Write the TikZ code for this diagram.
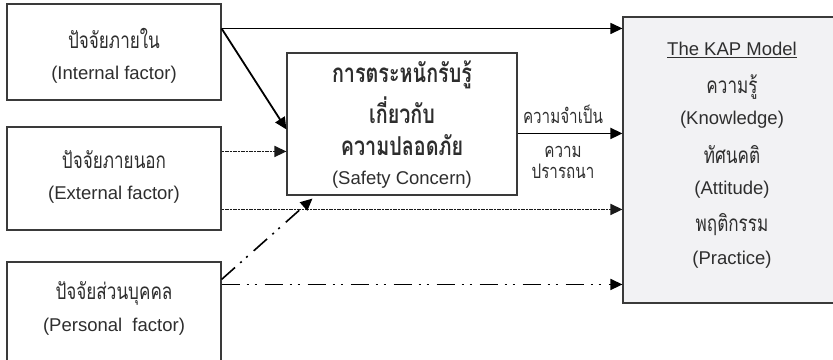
\documentclass[tikz,border=0pt]{standalone}
\usepackage{fontspec}
\setmainfont{Liberation Sans}
\newfontfamily\thai[Script=Thai, FakeStretch=0.76]{Loma}
\usetikzlibrary{arrows.meta,calc}
\definecolor{txt}{HTML}{2E2E2E}
\definecolor{edge}{HTML}{3A3A3A}
\definecolor{kapfill}{HTML}{F2F2F4}
\tikzset{
  box/.style={draw=edge, line width=1.1pt, fill=white, inner sep=0pt},
  lbl/.style={text=txt, inner sep=0pt, font=\fontsize{18.5}{20}\selectfont},
  tlbl/.style={text=txt, inner sep=0pt, font=\thai\fontsize{22.5}{24}\selectfont},
  tbold/.style={text=txt, inner sep=0pt, font=\thai\bfseries\fontsize{26}{28}\selectfont},
  tsmall/.style={text=txt, inner sep=0pt, font=\thai\fontsize{20}{22}\selectfont},
  tip/.style={-{Triangle[length=12pt,width=11pt]}},
  solidarrow/.style={tip, line width=1.3pt, draw=black},
  thickarrow/.style={tip, line width=1.8pt, draw=black},
  dotarrow/.style={tip, line width=1.6pt, draw=black!90, dash pattern=on 1.2pt off 0.4pt},
  dddarrow/.style={tip, line width=1.6pt, draw=black, dash pattern=on 18pt off 7pt on 2pt off 6pt on 2pt off 8pt},
}
\begin{document}
\begin{tikzpicture}[x=1pt,y=-1pt]
\useasboundingbox (0,0) rectangle (833,359);
% boxes
\node[box, minimum width=214pt, minimum height=96pt] (b1) at (114,52) {};
\node[box, minimum width=214pt, minimum height=103pt] (b2) at (114,178.5) {};
\node[box, minimum width=214pt, minimum height=100pt] (b3) at (114,312) {};
\node[box, minimum width=230pt, minimum height=142pt] (cb) at (402,124) {};
\node[box, fill=kapfill, minimum width=220pt, minimum height=286pt] (kap) at (733,160) {};
% texts
\node[tlbl] (t1a) at (114,38) {ปัจจัยภายใน};
\node[lbl] (t1b) at (114,75) {(Internal factor)};
\node[tlbl] (t2a) at (114,160) {ปัจจัยภายนอก};
\node[lbl] (t2b) at (114,195) {(External factor)};
\node[tlbl] (t3a) at (114,293) {ปัจจัยส่วนบุคคล};
\node[lbl] (t3b) at (114,327) {(Personal\ \ factor)};
\node[tbold] (c1) at (402,75) {การตระหนักรับรู้};
\node[tbold] (c2) at (402,110) {เกี่ยวกับ};
\node[tbold] (c3) at (402,145) {ความปลอดภัย};
\node[lbl] (c4) at (402,180) {(Safety Concern)};
\node[tsmall] (n1) at (563,114) {ความจำเป็น};
\node[tsmall] (n2) at (563,152) {ความ};
\node[tsmall] (n3) at (563,171) {ปรารถนา};
\node[lbl] (k0) at (732,50) {\underline{The KAP Model}};
\node[tlbl] (k1) at (732,87) {ความรู้};
\node[lbl] (k2) at (732,120) {(Knowledge)};
\node[tlbl] (k3) at (732,155) {ทัศนคติ};
\node[lbl] (k4) at (732,190) {(Attitude)};
\node[tlbl] (k5) at (732,225) {พฤติกรรม};
\node[lbl] (k6) at (732,260) {(Practice)};
% connector end points
\coordinate (p1) at ($(b1.north east)+(0,25)$);
\coordinate (p2) at ($(b2.north east)+(0,25)$);
\coordinate (p3) at ($(b2.north east)+(0,83)$);
\coordinate (p4) at ($(b3.north east)+(0,18)$);
\coordinate (p5) at ($(b3.north east)+(0,23)$);
\coordinate (q1) at ($(cb.north west)+(0,77)$);
\coordinate (q2) at ($(cb.north east)+(0,81)$);
\coordinate (q3) at ($(cb.south west)+(26,3)$);
% connectors
\draw[solidarrow] (p1) -- (p1 -| kap.west);
\draw[thickarrow] (p1) -- (q1);
\draw[dotarrow] (p2) -- (p2 -| cb.west);
\draw[thickarrow] (q2) -- (q2 -| kap.west);
\draw[dotarrow] (p3) -- (p3 -| kap.west);
\draw[dddarrow] (p4) -- (q3);
\draw[dddarrow] (p5) -- (p5 -| kap.west);
\end{tikzpicture}
\end{document}
